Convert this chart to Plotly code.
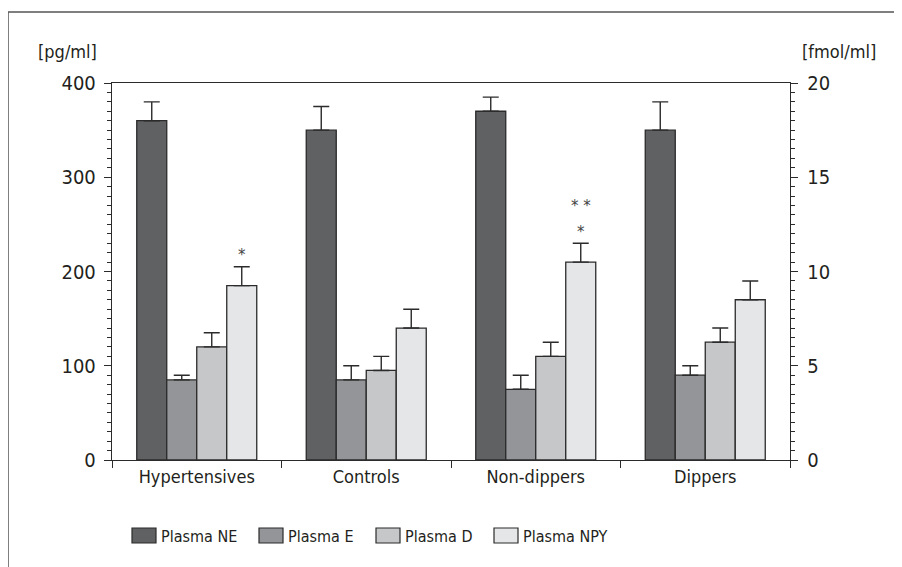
import plotly.graph_objects as go

categories = ["Hypertensives", "Controls", "Non-dippers", "Dippers"]

# pg/ml (left axis)
ne_vals = [360, 350, 370, 350]
ne_err = [20, 25, 15, 30]
e_vals = [85, 85, 75, 90]
e_err = [5, 15, 15, 10]
d_vals = [120, 95, 110, 125]
d_err = [15, 15, 15, 15]
# fmol/ml (right axis)
npy_vals = [9.25, 7.0, 10.5, 8.5]
npy_err = [1.0, 1.0, 1.0, 1.0]

series_names = ["Plasma NE", "Plasma E", "Plasma D", "Plasma NPY"]
colors = ["#606163", "#939598", "#c6c7c9", "#e5e6e7"]

# significance marks (category, y on right axis, text)
sig_cats = ["Hypertensives", "Non-dippers", "Non-dippers"]
sig_y = [10.9, 12.1, 13.5]
sig_text = ["*", "*", "* *"]

FONT = "DejaVu Sans Condensed, Roboto, sans-serif"
TXT = "#231f20"
EDGE = "#2b2b2b"

fig = go.Figure()
data = [(ne_vals, ne_err, "y"), (e_vals, e_err, "y"), (d_vals, d_err, "y"), (npy_vals, npy_err, "y2")]
for i, (vals, err, ax) in enumerate(data):
    fig.add_trace(go.Bar(
        x=categories, y=vals, name=series_names[i], yaxis=ax,
        offsetgroup=str(i), alignmentgroup="g",
        marker=dict(color=colors[i], line=dict(color=EDGE, width=1.3)),
        error_y=dict(type="data", array=err, arrayminus=[0] * len(err), symmetric=False,
                     color=EDGE, thickness=1.4, width=8),
        showlegend=False,
    ))

# page body has an 8px margin; lay out in screen coordinates minus that offset
OFF = 8
W, H = 902 - OFF, 567 - OFF
L, T = 112 - OFF, 83 - OFF
R = W - (790 - OFF)
B = H - (460 - OFF)
pw, ph = W - L - R, H - T - B

def px(x):
    return (x - OFF - L) / pw

def py(y):
    return (H - B - (y - OFF)) / ph

shapes = []
annotations = []

# outer frame (top and left edges visible)
shapes.append(dict(type="rect", xref="paper", yref="paper", x0=px(8), x1=px(960), y0=py(640), y1=py(12),
                   line=dict(color="#555555", width=1.5), fillcolor="rgba(0,0,0,0)", layer="below"))

# manual legend
box_x = [132, 259, 376, 494]
for i, bx in enumerate(box_x):
    shapes.append(dict(type="rect", xref="paper", yref="paper", x0=px(bx), x1=px(bx + 24),
                       y0=py(543), y1=py(528), fillcolor=colors[i], line=dict(color=EDGE, width=1.2)))
    annotations.append(dict(xref="paper", yref="paper", x=px(bx + 27), y=py(536), text=series_names[i],
                            showarrow=False, xanchor="left", yanchor="middle",
                            font=dict(family=FONT, size=16, color=TXT)))

# unit labels
annotations.append(dict(xref="paper", yref="paper", x=px(99), y=py(52), text="[pg/ml]", showarrow=False,
                        xanchor="right", yanchor="middle", font=dict(family=FONT, size=18, color=TXT)))
annotations.append(dict(xref="paper", yref="paper", x=px(800), y=py(52), text="[fmol/ml]", showarrow=False,
                        xanchor="left", yanchor="middle", font=dict(family=FONT, size=18, color=TXT)))

# significance asterisks above NPY bars
for c, yv, t in zip(sig_cats, sig_y, sig_text):
    annotations.append(dict(x=c, y=yv, xref="x", yref="y2", text=t, showarrow=False, xshift=45,
                            font=dict(family="DejaVu Sans, sans-serif", size=15, color="#444444")))

fig.update_layout(
    width=W, height=H,
    margin=dict(l=L, r=R, t=T, b=B, autoexpand=False),
    paper_bgcolor="white", plot_bgcolor="white",
    barmode="group", bargap=0.292, bargroupgap=0,
    font=dict(family=FONT, color=TXT),
    shapes=shapes, annotations=annotations,
    xaxis=dict(showline=True, linecolor=EDGE, linewidth=1.4, mirror=True,
               ticks="outside", tickson="boundaries", ticklen=7, tickcolor=EDGE, tickwidth=1.2,
               tickfont=dict(family=FONT, size=18, color=TXT), showgrid=False),
    yaxis=dict(range=[0, 400], dtick=100, showline=True, linecolor=EDGE, linewidth=1.4,
               ticks="outside", ticklen=7, tickcolor=EDGE, tickwidth=1.2, showgrid=False,
               zeroline=False, tickfont=dict(family=FONT, size=20, color=TXT), ticklabelstandoff=4,
               minor=dict(dtick=10, ticks="outside", ticklen=4, tickcolor=EDGE, tickwidth=1, showgrid=False)),
    yaxis2=dict(range=[0, 20], dtick=5, overlaying="y", side="right", showline=True, linecolor=EDGE,
                linewidth=1.4, ticks="outside", ticklen=7, tickcolor=EDGE, tickwidth=1.2, showgrid=False,
                zeroline=False, tickfont=dict(family=FONT, size=20, color=TXT), ticklabelstandoff=5,
                minor=dict(dtick=0.5, ticks="outside", ticklen=4, tickcolor=EDGE, tickwidth=1, showgrid=False)),
)

fig.write_html("out.html")
